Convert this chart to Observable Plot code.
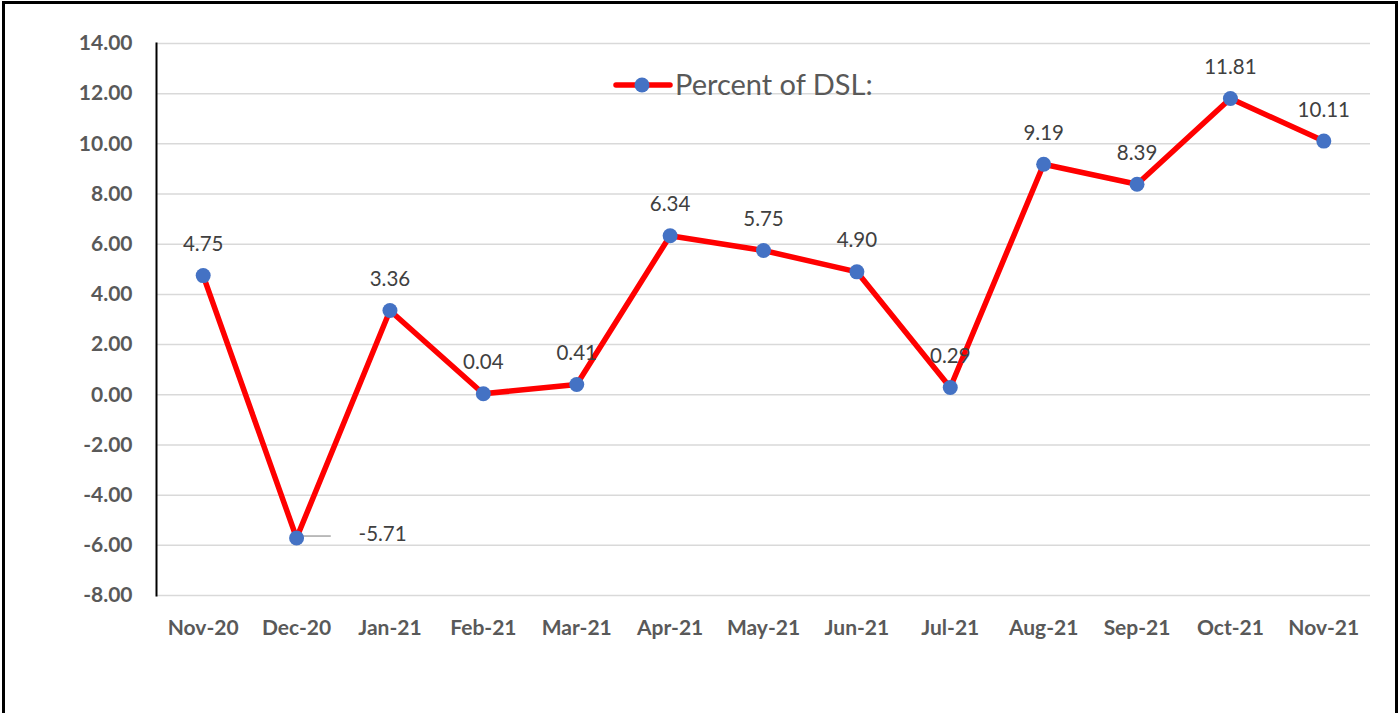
<!DOCTYPE html>
<html>
<head>
<meta charset="utf-8">
<script src="https://cdn.jsdelivr.net/npm/d3@7"></script>
<script src="https://cdn.jsdelivr.net/npm/@observablehq/plot@0.6"></script>
<style>
  html, body { margin: 0; padding: 0; background: #fff; }
  #wrap { position: relative; width: 1399px; height: 713px; overflow: hidden; background: #fff; }
  #frame { position: absolute; left: 2px; top: 1px; width: 1390px; height: 714px; border: 3px solid #000; border-bottom: 1px solid #999; box-sizing: content-box; pointer-events: none; }
  #chart { position: absolute; left: 0; top: 0; }
  #legend { position: absolute; left: 610px; top: 66px; }
</style>
</head>
<body>
<div id="wrap">
  <div id="chart"></div>
  <div id="legend"></div>
  <div id="frame"></div>
</div>
<script>
const months = ["Nov-20","Dec-20","Jan-21","Feb-21","Mar-21","Apr-21","May-21","Jun-21","Jul-21","Aug-21","Sep-21","Oct-21","Nov-21"];
const values = [4.75, -5.71, 3.36, 0.04, 0.41, 6.34, 5.75, 4.90, 0.29, 9.19, 8.39, 11.81, 10.11];
const yTicks = [-8, -6, -4, -2, 0, 2, 4, 6, 8, 10, 12, 14];
const seriesName = "Percent of DSL:";

const data = months.map((m, i) => ({month: m, value: values[i]}));
const above = data.filter(d => d.month !== "Dec-20");
const below = data.filter(d => d.month === "Dec-20");

const FONT = "Lato, 'Open Sans', sans-serif";
const RED = "#ff0000";
const BLUE = "#4472c4";

const chart = Plot.plot({
  width: 1399,
  height: 713,
  marginLeft: 156,
  marginRight: 29,
  marginTop: 43,
  marginBottom: 118,
  style: {fontFamily: FONT, background: "transparent"},
  x: {type: "band", domain: months, padding: 0, round: false, label: null},
  y: {domain: [-8, 14], ticks: yTicks, label: null},
  marks: [
    Plot.gridY(yTicks, {stroke: "#d9d9d9", strokeOpacity: 1, strokeWidth: 1.5}),
    Plot.frame({anchor: "left", stroke: "#000", strokeWidth: 2}),
    Plot.axisY(yTicks, {tickSize: 0, tickPadding: 24, tickFormat: d => d.toFixed(2), fontSize: 21, fontWeight: "bold", fill: "#595959", label: null}),
    Plot.axisX({tickSize: 0, tickPadding: 25, fontSize: 21, fontWeight: "bold", fill: "#595959", label: null}),
    Plot.line(data, {x: "month", y: "value", stroke: RED, strokeWidth: 5.5, strokeLinejoin: "round"}),
    Plot.tickY(below, {x: "month", y: "value", stroke: "#a6a6a6", strokeWidth: 1.5, insetLeft: 50, insetRight: 12, dy: -2}),
    Plot.dot(data, {x: "month", y: "value", r: 7.5, fill: BLUE, stroke: "none"}),
    Plot.text(above, {x: "month", y: "value", text: d => d.value.toFixed(2), dy: -31, fontSize: 20.5, fill: "#404040"}),
    Plot.text(below, {x: "month", y: "value", text: d => d.value.toFixed(2), dx: 86, dy: -4, fontSize: 20.5, fill: "#404040"})
  ]
});
document.getElementById("chart").appendChild(chart);

// legend
const lg = d3.select("#legend").append("svg").attr("width", 320).attr("height", 40);
lg.append("line").attr("x1", 6).attr("x2", 60).attr("y1", 19).attr("y2", 19).attr("stroke", RED).attr("stroke-width", 5.5).attr("stroke-linecap", "round");
lg.append("circle").attr("cx", 32).attr("cy", 19).attr("r", 7.5).attr("fill", BLUE);
lg.append("text").attr("x", 65).attr("y", 29).attr("font-family", FONT).attr("font-size", 29).attr("fill", "#595959").text(seriesName);
</script>
</body>
</html>
